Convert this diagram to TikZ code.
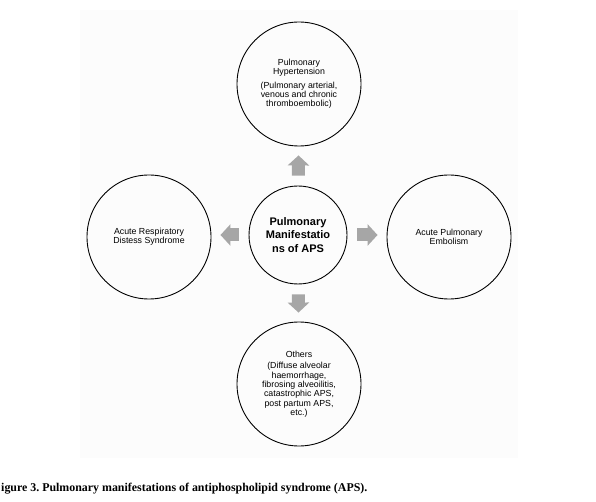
\documentclass[tikz,border=0pt]{standalone}
\usepackage{fontspec}
\setmainfont{Liberation Serif}
\setsansfont{Liberation Sans}
\usepackage{xcolor}
\usetikzlibrary{arrows.meta}

\definecolor{arrowgrey}{HTML}{A6A6A6}
\definecolor{paper}{HTML}{FCFCFC}
\frenchspacing

\begin{document}
\begin{tikzpicture}[x=1pt, y=-1pt,
          bubble/.style={draw, circle, line width=0.9pt, minimum size=124pt, inner sep=0pt, align=center,
            font=\sffamily\fontsize{8.8}{9.3}\selectfont},
          core/.style={draw, circle, line width=0.9pt, minimum size=98pt, inner sep=0pt, align=center,
            font=\sffamily\bfseries\fontsize{11}{13.3}\selectfont},
          push/.style={draw=arrowgrey, line width=13pt, -{Triangle[width=21pt, length=10pt]},
            shorten <=10pt, shorten >=9pt}
        ]
          \useasboundingbox (0,0) rectangle (596,502);
          \fill[paper] (80,10) rectangle (518,458);

          \node[core] (core) at (298,235) {Pulmonary\\Manifestatio\\ns of APS};
          \node[bubble] (pht) at (299,84) {Pulmonary\\Hypertension\\[4pt](Pulmonary arterial,\\venous and chronic\\thromboembolic)};
          \node[bubble] (ards) at (149,237) {Acute Respiratory\\Distess Syndrome};
          \node[bubble] (ape) at (449,237) {Acute Pulmonary\\Embolism};
          \node[bubble] (others) at (299,384) {Others\\[2.5pt](Diffuse alveolar\\haemorrhage,\\fibrosing alveoilitis,\\catastrophic APS,\\post partum APS,\\etc.)};

          \draw[push] (core) -- (pht);
          \draw[push] (core) -- (others);
          \draw[push] (core.west) -- (core.west -| ards.east);
          \draw[push] (core.east) -- (core.east -| ape.west);

          \node[anchor=base west, inner sep=0pt, font=\rmfamily\bfseries\fontsize{11.9}{13}\selectfont] (caption) at (1,491)
            {igure 3. Pulmonary manifestations of antiphospholipid syndrome (APS).};
        \end{tikzpicture}
\end{document}
